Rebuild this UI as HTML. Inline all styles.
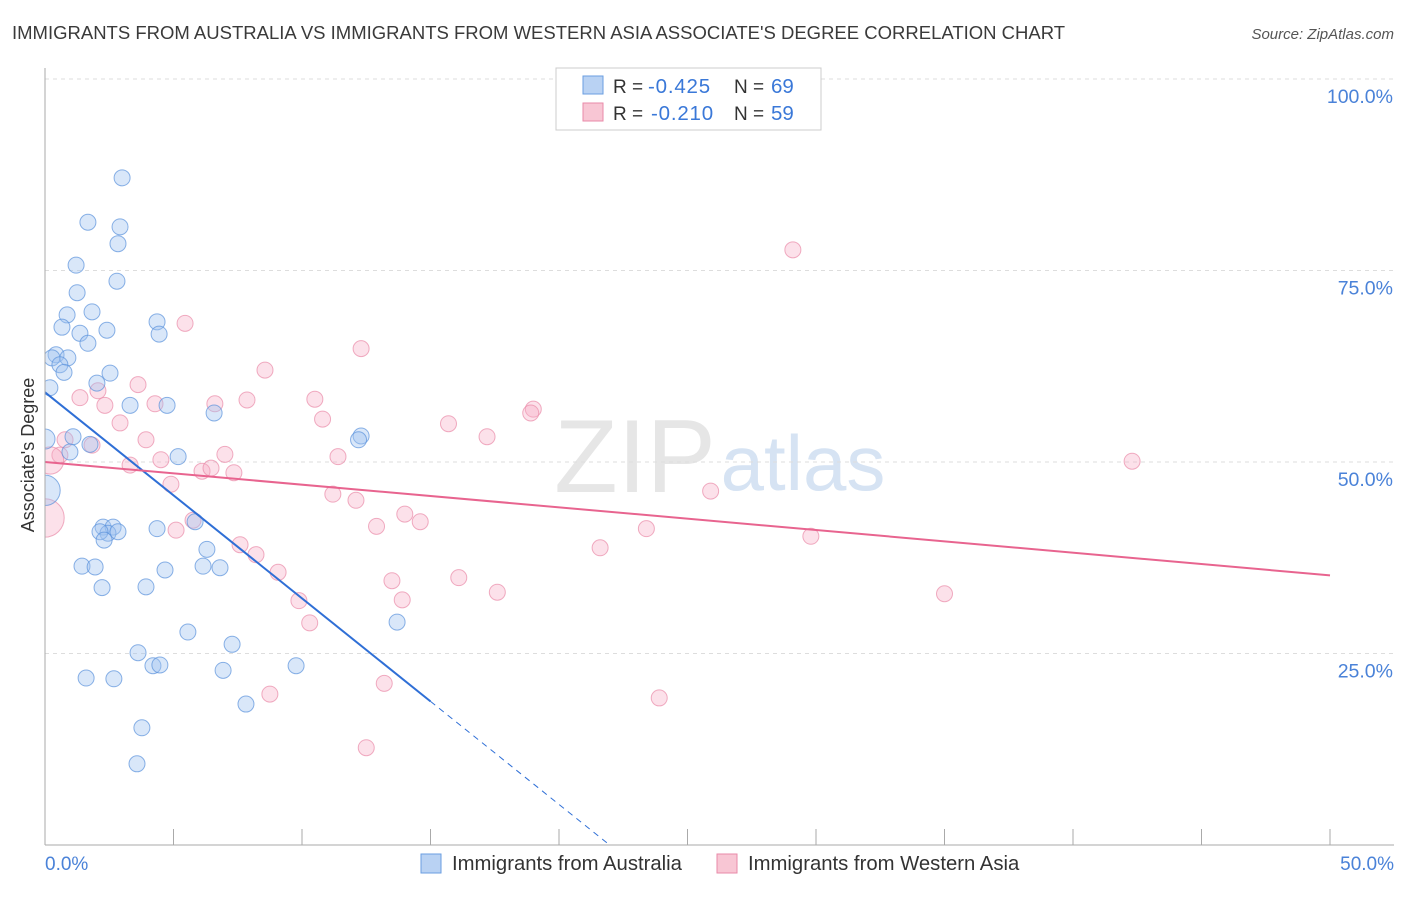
<!DOCTYPE html>
<html><head><meta charset="utf-8"><style>
body{margin:0;background:#fff;font-family:"Liberation Sans",sans-serif;}
svg text{font-family:"Liberation Sans",sans-serif;}
</style></head><body>
<svg id="chart" width="1406" height="892">
<defs><clipPath id="plotclip"><rect x="45" y="60" width="1360" height="785"/></clipPath></defs>
<text x="12" y="39" font-size="18.5" fill="#3a3a3a">IMMIGRANTS FROM AUSTRALIA VS IMMIGRANTS FROM WESTERN ASIA ASSOCIATE'S DEGREE CORRELATION CHART</text>
<text x="1394" y="39" font-size="15" fill="#555" text-anchor="end" font-style="italic">Source: ZipAtlas.com</text>
<text x="635" y="492" font-size="104" fill="#e6e6e6" font-family="Liberation Serif" text-anchor="middle">ZIP</text>
<text x="803" y="490" font-size="78" fill="#d6e3f3" text-anchor="middle">atlas</text>
<g id="grid"></g><g id="pts" clip-path="url(#plotclip)"></g><g id="lines"></g><g id="axes"></g>
<text transform="translate(34,455) rotate(-90)" font-size="18" fill="#333" text-anchor="middle">Associate's Degree</text>
<g>
<rect x="556" y="68" width="265" height="62" fill="#fff" stroke="#ccc"/>
<rect x="583" y="76" width="20" height="18" fill="#b9d2f3" stroke="#6a9ee0"/>
<rect x="583" y="103" width="20" height="18" fill="#f8c6d4" stroke="#e98aa8"/>
<text x="613" y="93" font-size="19" fill="#333">R =</text>
<text x="648" y="93" font-size="20.5" letter-spacing="0.8" fill="#3a78d8">-0.425</text>
<text x="734" y="93" font-size="19" fill="#333">N =</text>
<text x="771" y="93" font-size="20.5" fill="#3a78d8">69</text>
<text x="613" y="120" font-size="19" fill="#333">R =</text>
<text x="651" y="120" font-size="20.5" letter-spacing="0.8" fill="#3a78d8">-0.210</text>
<text x="734" y="120" font-size="19" fill="#333">N =</text>
<text x="771" y="120" font-size="20.5" fill="#3a78d8">59</text>
</g>
<g>
<rect x="421" y="854" width="20" height="19" fill="#b9d2f3" stroke="#6a9ee0"/>
<text x="452" y="870" font-size="20.3" fill="#333">Immigrants from Australia</text>
<rect x="717" y="854" width="20" height="19" fill="#f8c6d4" stroke="#e98aa8"/>
<text x="748" y="870" font-size="20.3" fill="#333">Immigrants from Western Asia</text>
</g>
</svg>
<script>
const blueX=[3.0,1.67,2.92,2.84,1.21,2.80,1.25,0.86,1.83,0.66,1.36,2.41,4.36,4.44,1.67,0.43,0.27,0.89,0.58,0.74,2.53,2.02,0.19,3.31,4.75,6.58,1.09,1.75,0.97,5.18,12.3,12.2,5.84,2.26,2.65,2.45,2.14,2.84,4.36,2.30,6.30,1.44,1.95,4.67,6.15,6.81,2.22,3.93,5.56,7.28,3.62,4.20,4.47,6.93,9.77,1.60,2.68,7.82,3.77,3.58,13.7,0.0,0.0];
const blueY=[87.1,81.3,80.7,78.5,75.7,73.6,72.1,69.2,69.6,67.6,66.8,67.2,68.3,66.7,65.5,64.0,63.6,63.6,62.7,61.7,61.6,60.3,59.7,57.4,57.4,56.4,53.3,52.3,51.3,50.7,53.4,52.9,42.2,41.5,41.5,40.7,40.9,40.9,41.3,39.8,38.6,36.4,36.3,35.9,36.4,36.2,33.6,33.7,27.8,26.2,25.1,23.4,23.5,22.8,23.4,21.8,21.7,18.4,15.3,10.6,29.1,53.0,46.3];
const blueSize=[1,1,1,1,1,1,1,1,1,1,1,1,1,1,1,1,1,1,1,1,1,1,1,1,1,1,1,1,1,1,1,1,1,1,1,1,1,1,1,1,1,1,1,1,1,1,1,1,1,1,1,1,1,1,1,1,1,1,1,1,1,1.25,1.9];
const pinkX=[29.1,5.45,12.3,8.56,3.62,2.06,1.36,2.33,4.28,6.61,7.86,10.5,2.92,10.8,19.0,18.9,15.7,17.2,0.78,1.83,3.93,0.58,7.0,11.4,3.31,4.51,6.11,6.46,7.35,42.3,4.90,11.2,12.1,14.0,14.6,12.9,25.9,23.4,29.8,5.76,5.10,7.59,8.21,9.07,21.6,16.1,13.5,17.6,13.9,9.88,10.3,35.0,8.75,13.2,23.9,12.5,0.0,0.2];
const pinkY=[77.7,68.1,64.8,62.0,60.1,59.3,58.4,57.4,57.6,57.6,58.1,58.2,55.1,55.6,56.9,56.4,55.0,53.3,52.9,52.2,52.9,50.9,51.0,50.7,49.6,50.3,48.8,49.2,48.6,50.1,47.1,45.8,45.0,43.2,42.2,41.6,46.2,41.3,40.3,42.4,41.1,39.2,37.9,35.6,38.8,34.9,34.5,33.0,32.0,31.9,29.0,32.8,19.7,21.1,19.2,12.7,42.7,50.2];
const pinkSize=[1,1,1,1,1,1,1,1,1,1,1,1,1,1,1,1,1,1,1,1,1,1,1,1,1,1,1,1,1,1,1,1,1,1,1,1,1,1,1,1,1,1,1,1,1,1,1,1,1,1,1,1,1,1,1,1,2.4,1.7];
const yTicks=[100,75,50,25];
const blueLine=[59.1,-2.69]; // intercept, slope per %
const blueSolidEnd=15;
const pinkLine=[50.0,-0.296];
const NS="http://www.w3.org/2000/svg";
const X=v=>45+v/50*1285, Y=v=>845-v/100*766;
function mk(t,a,p){const e=document.createElementNS(NS,t);for(const k in a)e.setAttribute(k,a[k]);p.appendChild(e);return e;}
const grid=document.getElementById('grid'),axes=document.getElementById('axes');
yTicks.forEach(t=>{
 const l=mk('line',{x1:45,x2:1394,y1:Y(t),y2:Y(t),stroke:'#ddd','stroke-dasharray':'4,4'},grid);
 
 
 const tx=mk('text',{x:1393,y:Y(t)+24,'font-size':19.5,fill:'#4a82d8','text-anchor':'end'},grid);
 tx.textContent=t.toFixed(1)+'%';
 
 
});
mk('line',{x1:45,x2:45,y1:68,y2:845,stroke:'#aaa'},axes);
mk('line',{x1:45,x2:1394,y1:845,y2:845,stroke:'#aaa'},axes);
for(let i=0;i<=10;i++){mk('line',{x1:X(i*5),x2:X(i*5),y1:829,y2:845,stroke:'#aaa'},axes);}
let t0=mk('text',{x:45,y:870,'font-size':19,fill:'#4a82d8'},axes);t0.textContent='0.0%';

let t1=mk('text',{x:1394,y:870,'font-size':19,fill:'#4a82d8','text-anchor':'end'},axes);t1.textContent='50.0%';

const pts=document.getElementById('pts');
pinkX.forEach((x,i)=>{const c=mk('circle',{cx:X(x),cy:Y(pinkY[i]),r:8*pinkSize[i],fill:'rgba(245,170,195,0.35)',stroke:'rgba(233,138,168,0.7)','stroke-width':1},pts);
 
 });
blueX.forEach((x,i)=>{const c=mk('circle',{cx:X(x),cy:Y(blueY[i]),r:8*blueSize[i],fill:'rgba(160,195,240,0.4)',stroke:'rgba(90,145,220,0.7)','stroke-width':1},pts);
 
 });
const lines=document.getElementById('lines');
const bx0=-blueLine[0]/blueLine[1];
const byEnd=blueLine[0]+blueLine[1]*blueSolidEnd;
let bl=mk('line',{x1:X(0),y1:Y(blueLine[0]),x2:X(blueSolidEnd),y2:Y(byEnd),stroke:'#2f6fd6','stroke-width':2},lines);

let bd=mk('line',{x1:X(blueSolidEnd),y1:Y(byEnd),x2:X(bx0),y2:Y(0),stroke:'#2f6fd6','stroke-width':1,'stroke-dasharray':'6,5'},lines);

let pl=mk('line',{x1:X(0),y1:Y(pinkLine[0]),x2:X(50),y2:Y(pinkLine[0]+pinkLine[1]*50),stroke:'#e8648f','stroke-width':2},lines);

</script>
</body></html>
